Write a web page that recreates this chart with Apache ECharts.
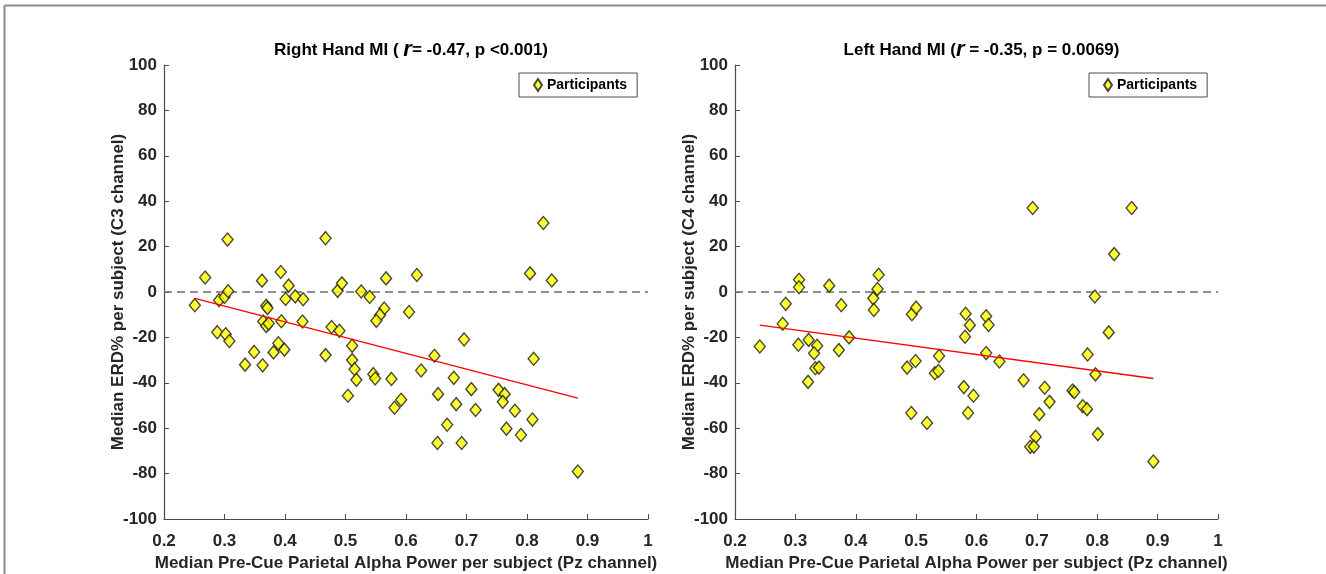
<!DOCTYPE html>
<html><head><meta charset="utf-8">
<script src="https://cdn.jsdelivr.net/npm/echarts@6/dist/echarts.min.js"></script>
<style>html,body{margin:0;padding:0;background:#fff}#c{width:1326px;height:574px}</style>
</head><body><div id="c"></div>
<script>
// Right Hand MI (C3)
const rhX = [0.251,0.268,0.305,0.291,0.300,0.306,0.288,0.302,0.308,0.334,0.349,0.363,0.362,0.369,0.371,0.364,0.369,0.373,0.393,0.406,0.401,0.417,0.430,0.394,0.389,0.381,0.399,0.429,0.467,0.467,0.477,0.490,0.487,0.494,0.526,0.540,0.567,0.564,0.557,0.551,0.511,0.511,0.515,0.518,0.504,0.546,0.549,0.576,0.581,0.618,0.827,0.805,0.841,0.605,0.696,0.647,0.811,0.625,0.679,0.653,0.708,0.753,0.763,0.760,0.592,0.683,0.715,0.780,0.809,0.668,0.766,0.790,0.652,0.692,0.884];
const rhY = [-5.8,6.4,23.1,-3.6,-2.2,0.3,-17.7,-18.6,-21.6,-32,-26.4,-32.3,5,-6.1,-7.1,-13,-15,-13.9,8.8,2.8,-3.1,-1.9,-3.2,-12.9,-22.6,-26.6,-25.4,-13,23.7,-27.8,-15.4,-17.1,0.5,3.8,0.2,-2.2,6,-7.3,-10.2,-12.7,-23.7,-30,-34,-38.7,-45.7,-36.2,-38.1,-38.3,-51,7.5,30.4,8.2,5.1,-8.8,-20.9,-28.1,-29.4,-34.6,-37.8,-45,-42.8,-43.1,-45,-48.4,-47.5,-49.4,-52,-52.3,-56.2,-58.5,-60.2,-63,-66.5,-66.5,-79.1];
const rhFitX = [0.251, 0.884];
const rhFitY = [-2.8, -46.8];
// Left Hand MI (C4)
const lhX = [0.241,0.279,0.284,0.306,0.306,0.305,0.322,0.336,0.331,0.333,0.339,0.321,0.356,0.376,0.372,0.389,0.438,0.436,0.429,0.430,0.493,0.500,0.485,0.499,0.492,0.518,0.538,0.531,0.537,0.582,0.589,0.581,0.579,0.595,0.586,0.616,0.620,0.616,0.638,0.693,0.857,0.828,0.796,0.819,0.784,0.797,0.678,0.713,0.721,0.759,0.762,0.704,0.776,0.783,0.801,0.698,0.689,0.695,0.893];
const lhY = [-24,-14,-5.2,5.4,2.1,-23.2,-21.1,-23.7,-27,-33.6,-33.3,-39.6,2.8,-5.8,-25.6,-20,7.6,1.3,-2.8,-7.9,-9.8,-6.9,-33.3,-30.4,-53.3,-57.7,-28.2,-35.8,-34.8,-9.6,-14.6,-19.7,-41.9,-45.7,-53.3,-10.7,-14.5,-26.9,-30.6,37,37,16.7,-2,-17.8,-27.5,-36.3,-38.9,-42.2,-48.4,-43.4,-44.1,-53.8,-50.3,-51.6,-62.6,-63.8,-68.2,-68.1,-74.7];
const lhFitX = [0.241, 0.893];
const lhFitY = [-14.6, -38.1];

const titles = [
  {pre: 'Right Hand MI ( ', r: 'r', post: '= -0.47, p <0.001)'},
  {pre: 'Left Hand MI (', r: 'r', post: ' = -0.35, p = 0.0069)'}
];
const xName = 'Median Pre-Cue Parietal Alpha Power per subject (Pz channel)';
const yNames = ['Median ERD% per subject (C3 channel)', 'Median ERD% per subject (C4 channel)'];
const legendName = 'Participants';

const FONT = '"Liberation Sans", Arial, sans-serif';
const AX = '#4a4a4a';
const TXT = '#262626';

const grids = [
  {left: 164, top: 65, width: 484, height: 454, containLabel: false, outerBoundsMode: 'none'},
  {left: 735, top: 65, width: 483, height: 454, containLabel: false, outerBoundsMode: 'none'}
];

function zip(a, b) { return a.map((v, i) => [v, b[i]]); }

const xAxes = [0, 1].map(i => ({
  type: 'value', gridIndex: i, min: 0.2, max: 1, interval: 0.1,
  name: xName, nameLocation: 'middle', nameGap: 35,
  nameTextStyle: {fontFamily: FONT, fontWeight: 'bold', fontSize: 17, color: TXT},
  axisLine: {show: true, onZero: false, lineStyle: {color: AX, width: 1.2}},
  axisTick: {show: true, inside: true, length: 5, lineStyle: {color: AX}},
  axisLabel: {fontFamily: FONT, fontWeight: 'bold', fontSize: 17, color: TXT, margin: 14},
  splitLine: {show: false}
}));
const yAxes = [0, 1].map(i => ({
  type: 'value', gridIndex: i, min: -100, max: 100, interval: 20,
  name: yNames[i], nameLocation: 'middle', nameGap: 37, nameMoveOverlap: false,
  nameTextStyle: {fontFamily: FONT, fontWeight: 'bold', fontSize: 17, color: TXT},
  axisLine: {show: true, onZero: false, lineStyle: {color: AX, width: 1.2}},
  axisTick: {show: true, inside: true, length: 5, lineStyle: {color: AX}},
  axisLabel: {fontFamily: FONT, fontWeight: 'bold', fontSize: 17, color: TXT, margin: 7},
  splitLine: {show: false}
}));

const dataSets = [[rhX, rhY, rhFitX, rhFitY], [lhX, lhY, lhFitX, lhFitY]];
const series = [];
dataSets.forEach((d, i) => {
  series.push({
    name: 'zero' + i, type: 'line', xAxisIndex: i, yAxisIndex: i,
    data: [[0.2, 0], [1, 0]], symbol: 'none', silent: true,
    lineStyle: {color: '#6e6e6e', width: 1.3, type: [8, 5]}, z: 1
  });
  series.push({
    name: legendName, type: 'scatter', xAxisIndex: i, yAxisIndex: i,
    data: zip(d[0], d[1]), symbol: 'diamond', symbolSize: [11, 13],
    itemStyle: {color: '#ffff00', borderColor: '#1a1a1a', borderWidth: 1.4}, z: 3
  });
  series.push({
    name: 'fit' + i, type: 'line', xAxisIndex: i, yAxisIndex: i,
    data: zip(d[2], d[3]), symbol: 'none', silent: true,
    lineStyle: {color: '#ff0000', width: 1.3}, z: 4
  });
});

const titleOpts = titles.map((t, i) => ({
  text: '{a|' + t.pre + '}{r|' + t.r + '}{a|' + t.post + '}',
  left: grids[i].left + grids[i].width / 2, top: 34, textAlign: 'center',
  textStyle: {
    rich: {
      a: {fontFamily: FONT, fontWeight: 'bold', fontSize: 17, color: '#000'},
      r: {fontFamily: FONT, fontWeight: 'bold', fontStyle: 'italic', fontSize: 22, color: '#000'}
    }
  }
}));

const legends = [519, 1089].map(l => ({
  data: [{name: legendName, icon: 'diamond'}],
  left: l, top: 73, width: 119, height: 25,
  padding: [5, 10, 5, 14], itemWidth: 8, itemHeight: 12, itemGap: 5,
  borderColor: '#4a4a4a', borderWidth: 1, backgroundColor: '#fff',
  textStyle: {fontFamily: FONT, fontWeight: 'bold', fontSize: 14, color: '#000'},
  selectedMode: false
}));

const chart = echarts.init(document.getElementById('c'), null, {renderer: 'canvas'});
chart.setOption({
  animation: false,
  backgroundColor: '#fff',
  title: titleOpts,
  legend: legends,
  grid: grids,
  xAxis: xAxes,
  yAxis: yAxes,
  series: series,
  graphic: [
    {type: 'line', shape: {x1: 4.5, y1: 5.5, x2: 1326, y2: 5.5}, style: {stroke: '#8a8a8a', lineWidth: 2}, silent: true},
    {type: 'line', shape: {x1: 4.5, y1: 5.5, x2: 4.5, y2: 574}, style: {stroke: '#8a8a8a', lineWidth: 2}, silent: true}
  ]
});
</script></body></html>
